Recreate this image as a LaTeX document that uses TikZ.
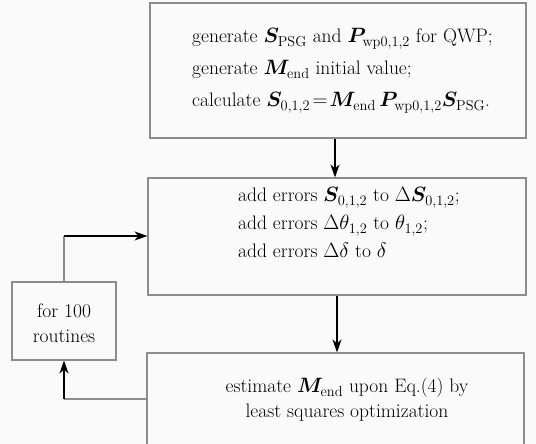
\documentclass[tikz,border=0pt]{standalone}
\usepackage{bm}
\usetikzlibrary{arrows.meta}
\begin{document}
\begin{tikzpicture}[x=1pt,y=1pt,
  boxline/.style={draw=black!45,line width=1.1pt},
  box/.style={boxline,rectangle,inner sep=0pt},
  txt/.style={inner sep=0pt,font=\fontsize{19.5}{24}\selectfont},
  arr/.style={draw=black,line width=1.4pt,-{Stealth[length=13pt,width=9pt,inset=4pt]}},
  graylink/.style={draw=black!45,line width=1.1pt}]
\useasboundingbox[fill=black!2] (0,0) rectangle (536,444);
% boxes
\node[box,minimum width=376pt,minimum height=135pt] (b1) at (338,373.5) {};
\node[box,minimum width=378pt,minimum height=117pt] (b2) at (337,207.5) {};
\node[box,minimum width=377pt,minimum height=100pt] (b3) at (335.5,41) {};
\node[box,minimum width=104pt,minimum height=78pt] (loop) at (64,123) {};
% box 1 text
\node[txt,anchor=base west] (t11) at (192,401) {generate $\bm{S}_{\mathrm{PSG}}$ and $\bm{P}_{\mathrm{wp0,1,2}}$ for QWP;};
\node[txt,anchor=base west] (t12) at (192,369) {generate $\bm{M}_{\mathrm{end}}$ initial value;};
\node[txt,anchor=base west] (t13) at (192,337) {calculate $\bm{S}_{0,1,2}\!=\!\bm{M}_{\mathrm{end}}\,\bm{P}_{\mathrm{wp0,1,2}}\bm{S}_{\mathrm{PSG}}$.};
% box 2 text
\node[txt,anchor=base west] (t21) at (238,242) {add errors $\bm{S}_{0,1,2}$ to $\Delta\bm{S}_{0,1,2}$;};
\node[txt,anchor=base west] (t22) at (238,214) {add errors $\Delta\theta_{1,2}$ to $\theta_{1,2}$;};
\node[txt,anchor=base west] (t23) at (238,186) {add errors $\Delta\delta$ to $\delta$};
% box 3 text
\node[txt,anchor=base] (t31) at (347,51) {estimate $\bm{M}_{\mathrm{end}}$ upon Eq.(4) by};
\node[txt,anchor=base] (t32) at (347,26) {least squares optimization};
% loop text
\node[txt,anchor=base] (l1) at (64,126) {for 100};
\node[txt,anchor=base] (l2) at (64,101) {routines};
% connectors
\draw[arr] (b1.south -| 335,0) -- (b2.north -| 335,0);
\draw[arr] (b2.south -| 337,0) -- (b3.north -| 337,0);
\coordinate (up) at (loop.north |- 0,208);
\coordinate (dn) at (loop.south |- 0,45);
\draw[graylink] (loop.north) -- (up);
\draw[arr] (up) -- (b2.west |- up);
\draw[graylink] (b3.west |- dn) -- (dn);
\draw[arr] (dn) -- (loop.south);
\end{tikzpicture}
\end{document}
